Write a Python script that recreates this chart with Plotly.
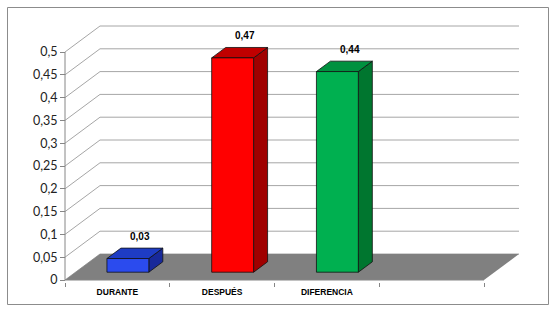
import plotly.graph_objects as go

# ---------------- data ----------------
categories = ["DURANTE", "DESPUÉS", "DIFERENCIA"]
values = [0.03, 0.47, 0.44]
y_ticks = [0, 0.05, 0.1, 0.15, 0.2, 0.25, 0.3, 0.35, 0.4, 0.45, 0.5]
n_slots = 4  # the chart reserves one empty category slot on the right

front_colors = ["#2B4BEE", "#FF0000", "#00B050"]
top_colors = ["#1E3CC4", "#C00000", "#00913F"]
side_colors = ["#18299A", "#A00000", "#00762F"]

# ---------------- projection setup ----------------
PX_X = 104.75   # pixels per category
PX_Y = 456.0    # pixels per value unit
DX = 35.0 / PX_X  # depth offset in category units
DY = 26.0 / PX_Y  # depth offset in value units
W = 0.40          # bar width (category units)
D0, D1 = 0.30, 0.70  # bar depth span (fraction of full depth)

ORIGIN_X, ORIGIN_Y = 65, 280  # pixel of (u=-0.5, v=0) at the front plane
L, R, T, B = 50, 30, 12, 33
FIG_W, FIG_H = 560, 315
plot_w = FIG_W - L - R
plot_h = FIG_H - T - B

u_min = -0.5 - (ORIGIN_X - L) / PX_X
u_max = -0.5 + (FIG_W - R - ORIGIN_X) / PX_X
v_min = (ORIGIN_Y - (FIG_H - B)) / PX_Y
v_max = (ORIGIN_Y - T) / PX_Y


def P(u, v, d):
    return u + d * DX, v + d * DY


def poly(pts):
    xs = [p[0] for p in pts] + [pts[0][0]]
    ys = [p[1] for p in pts] + [pts[0][1]]
    return xs, ys


fig = go.Figure()

# gridlines: left wall diagonal + back wall horizontal
gx, gy = [], []
for t in y_ticks:
    for (u, d) in [(-0.5, 0), (-0.5, 1), (n_slots - 0.5, 1)]:
        x, y = P(u, t, d)
        gx.append(x); gy.append(y)
    gx.append(None); gy.append(None)
fig.add_trace(go.Scatter(x=gx, y=gy, mode="lines",
                         line=dict(color="#A6A6A6", width=1), hoverinfo="skip"))

# floor
fx, fy = poly([P(-0.5, 0, 0), P(n_slots - 0.5, 0, 0), P(n_slots - 0.5, 0, 1), P(-0.5, 0, 1)])
fig.add_trace(go.Scatter(x=fx, y=fy, mode="lines", fill="toself", fillcolor="#808080",
                         line=dict(width=0, color="#808080"), hoverinfo="skip"))

# bars
for i, val in enumerate(values):
    a, b = i - W / 2, i + W / 2
    faces = [
        ([P(b, 0, D0), P(b, 0, D1), P(b, val, D1), P(b, val, D0)], side_colors[i]),
        ([P(a, val, D0), P(b, val, D0), P(b, val, D1), P(a, val, D1)], top_colors[i]),
        ([P(a, 0, D0), P(b, 0, D0), P(b, val, D0), P(a, val, D0)], front_colors[i]),
    ]
    for pts, col in faces:
        xs, ys = poly(pts)
        fig.add_trace(go.Scatter(x=xs, y=ys, mode="lines", fill="toself", fillcolor=col,
                                 line=dict(color="#111111", width=0.8), hoverinfo="skip"))
    fig.add_annotation(x=i + 0.5 * DX + 0.05, y=val + D1 * DY,
                       text=f"{val:.2f}".replace(".", ","), showarrow=False,
                       yanchor="bottom", yshift=4,
                       font=dict(family="Liberation Sans, Arial", size=10,
                                 color="black", weight="bold"))

# front axis lines (vertical value axis and bottom category axis)
fig.add_trace(go.Scatter(x=[-0.5, -0.5, None, -0.5, n_slots - 0.5],
                         y=[y_ticks[-1], 0, None, 0, 0], mode="lines",
                         line=dict(color="#868686", width=1), hoverinfo="skip"))

fig.update_layout(
    width=FIG_W, height=FIG_H,
    margin=dict(l=L, r=R, t=T, b=B),
    paper_bgcolor="white", plot_bgcolor="white",
    showlegend=False,
    separators=", ",
    xaxis=dict(range=[u_min, u_max], showgrid=False, zeroline=False, showline=False,
               tickvals=list(range(len(categories))), ticktext=categories, ticks="",
               ticklabelstandoff=3,
               tickfont=dict(family="Liberation Sans, Arial", size=8.5, color="black",
                             weight="bold"),
               minor=dict(tickvals=[k - 0.5 for k in range(n_slots + 1)], ticks="outside",
                          ticklen=4, tickcolor="#868686", showgrid=False),
               fixedrange=True),
    yaxis=dict(range=[v_min, v_max], showgrid=False, zeroline=False, showline=False,
               anchor="free", position=(ORIGIN_X - L) / plot_w,
               tickvals=y_ticks, ticks="outside", ticklen=5, tickcolor="#868686",
               tickfont=dict(family="Lato, Open Sans", size=12.5, color="#222222"),
               fixedrange=True),
)

# outer chart border
fig.add_shape(type="rect", xref="paper", yref="paper",
              x0=(7.5 - L) / plot_w, x1=(548.5 - L) / plot_w,
              y0=((FIG_H - B) - 304.5) / plot_h, y1=((FIG_H - B) - 7.5) / plot_h,
              line=dict(color="#8C8C8C", width=1), fillcolor="rgba(0,0,0,0)")

fig.write_html("out.html")
